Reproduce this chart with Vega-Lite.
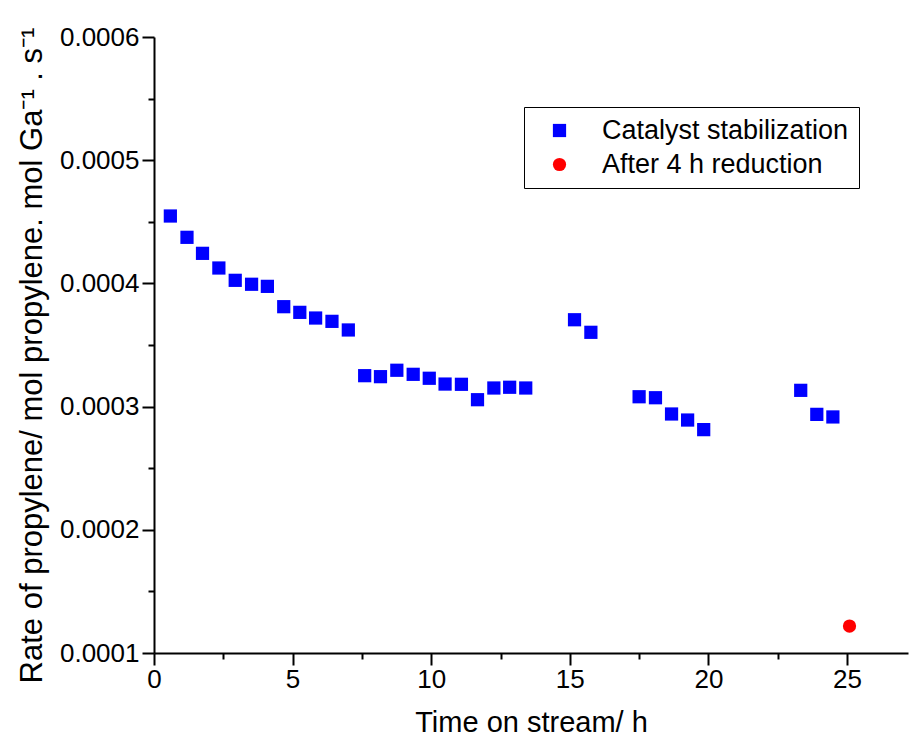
{
  "$schema": "https://vega.github.io/schema/vega-lite/v6.json",
  "width": 754,
  "height": 616,
  "autosize": {"type": "none"},
  "padding": {"left": 154, "top": 37, "right": 2, "bottom": 94},
  "background": "white",
  "config": {
    "view": {"stroke": null},
    "font": "Liberation Sans",
    "legend": {
      "title": null,
      "orient": "none",
      "legendX": 370,
      "legendY": 70,
      "strokeColor": "black",
      "fillColor": "white",
      "padding": 10,
      "symbolOffset": 12,
      "symbolSize": 175,
      "symbolStrokeWidth": 0,
      "labelFontSize": 27,
      "labelColor": "black",
      "labelOffset": 29,
      "rowPadding": 6,
      "labelLimit": 400
    }
  },
  "data": {
    "values": [
      {"t": 0.59, "rate": 0.0004547, "series": "Catalyst stabilization"},
      {"t": 1.19, "rate": 0.0004374, "series": "Catalyst stabilization"},
      {"t": 1.75, "rate": 0.0004244, "series": "Catalyst stabilization"},
      {"t": 2.34, "rate": 0.0004125, "series": "Catalyst stabilization"},
      {"t": 2.93, "rate": 0.0004025, "series": "Catalyst stabilization"},
      {"t": 3.52, "rate": 0.0003993, "series": "Catalyst stabilization"},
      {"t": 4.09, "rate": 0.0003976, "series": "Catalyst stabilization"},
      {"t": 4.68, "rate": 0.0003811, "series": "Catalyst stabilization"},
      {"t": 5.26, "rate": 0.0003765, "series": "Catalyst stabilization"},
      {"t": 5.83, "rate": 0.0003719, "series": "Catalyst stabilization"},
      {"t": 6.42, "rate": 0.0003692, "series": "Catalyst stabilization"},
      {"t": 7.01, "rate": 0.0003622, "series": "Catalyst stabilization"},
      {"t": 7.60, "rate": 0.0003251, "series": "Catalyst stabilization"},
      {"t": 8.17, "rate": 0.0003243, "series": "Catalyst stabilization"},
      {"t": 8.76, "rate": 0.0003295, "series": "Catalyst stabilization"},
      {"t": 9.35, "rate": 0.0003262, "series": "Catalyst stabilization"},
      {"t": 9.93, "rate": 0.000323, "series": "Catalyst stabilization"},
      {"t": 10.50, "rate": 0.0003183, "series": "Catalyst stabilization"},
      {"t": 11.09, "rate": 0.0003181, "series": "Catalyst stabilization"},
      {"t": 11.67, "rate": 0.0003056, "series": "Catalyst stabilization"},
      {"t": 12.26, "rate": 0.0003151, "series": "Catalyst stabilization"},
      {"t": 12.83, "rate": 0.0003157, "series": "Catalyst stabilization"},
      {"t": 13.41, "rate": 0.0003151, "series": "Catalyst stabilization"},
      {"t": 15.17, "rate": 0.0003705, "series": "Catalyst stabilization"},
      {"t": 15.76, "rate": 0.0003603, "series": "Catalyst stabilization"},
      {"t": 17.50, "rate": 0.000308, "series": "Catalyst stabilization"},
      {"t": 18.09, "rate": 0.0003072, "series": "Catalyst stabilization"},
      {"t": 18.67, "rate": 0.000294, "series": "Catalyst stabilization"},
      {"t": 19.25, "rate": 0.0002891, "series": "Catalyst stabilization"},
      {"t": 19.83, "rate": 0.0002813, "series": "Catalyst stabilization"},
      {"t": 23.33, "rate": 0.0003132, "series": "Catalyst stabilization"},
      {"t": 23.91, "rate": 0.0002937, "series": "Catalyst stabilization"},
      {"t": 24.49, "rate": 0.0002916, "series": "Catalyst stabilization"},
      {"t": 25.09, "rate": 0.0001219, "series": "After 4 h reduction"}
    ]
  },
  "mark": {"type": "point", "filled": true, "opacity": 1, "size": 175},
  "encoding": {
    "x": {
      "field": "t",
      "type": "quantitative",
      "scale": {"domain": [0, 27.2], "nice": false, "zero": false},
      "axis": {
        "title": "Time on stream/ h",
        "titleFontSize": 29,
        "titleFontWeight": "normal",
        "titleColor": "black",
        "titleY": 69,
        "titleBaseline": "middle",
        "values": [0, 2.5, 5, 7.5, 10, 12.5, 15, 17.5, 20, 22.5, 25],
        "labelExpr": "datum.value % 5 == 0 ? format(datum.value, 'd') : ''",
        "labelFontSize": 26,
        "labelColor": "black",
        "labelPadding": 1,
        "labelFlush": false,
        "labelOverlap": false,
        "tickSize": {"condition": {"test": "datum.value % 5 == 0", "value": 12}, "value": 6},
        "tickColor": "black",
        "tickWidth": 2,
        "domainColor": "black",
        "domainWidth": 2,
        "grid": false
      }
    },
    "y": {
      "field": "rate",
      "type": "quantitative",
      "scale": {"domain": [0.0001, 0.0006], "nice": false, "zero": false},
      "axis": {
        "title": "Rate of propylene/ mol propylene. mol Ga⁻¹ . s⁻¹",
        "titleFontSize": 31,
        "titleFontWeight": "normal",
        "titleColor": "black",
        "titleX": -122,
        "titleY": 318,
        "titleAngle": -90,
        "titleAlign": "center",
        "titleBaseline": "middle",
        "values": [0.0001, 0.00015, 0.0002, 0.00025, 0.0003, 0.00035, 0.0004, 0.00045, 0.0005, 0.00055, 0.0006],
        "labelExpr": "round(datum.value * 20000) % 2 == 0 ? format(datum.value, '.4f') : ''",
        "labelFontSize": 26,
        "labelColor": "black",
        "labelPadding": 3,
        "labelFlush": false,
        "labelOverlap": false,
        "tickSize": {"condition": {"test": "round(datum.value * 20000) % 2 == 0", "value": 12}, "value": 6},
        "tickColor": "black",
        "tickWidth": 2,
        "domainColor": "black",
        "domainWidth": 2,
        "grid": false
      }
    },
    "shape": {
      "field": "series",
      "type": "nominal",
      "scale": {"domain": ["Catalyst stabilization", "After 4 h reduction"], "range": ["square", "circle"]},
      "legend": {}
    },
    "color": {
      "field": "series",
      "type": "nominal",
      "scale": {"domain": ["Catalyst stabilization", "After 4 h reduction"], "range": ["#0000FF", "#FF0000"]},
      "legend": {}
    }
  }
}
